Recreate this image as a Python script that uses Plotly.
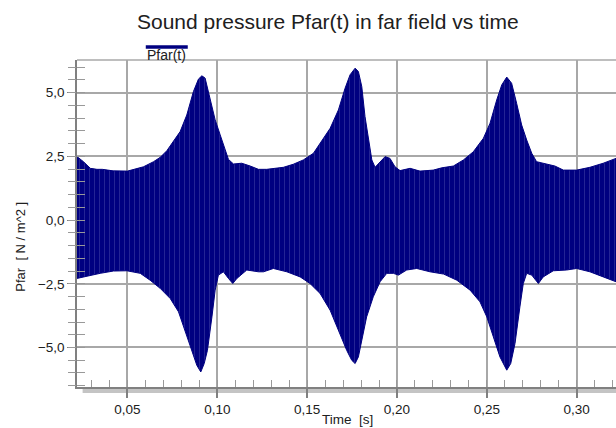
import plotly.graph_objects as go

# Upper envelope of Pfar(t) (peaks of each cycle)
upper_t = [0.0219, 0.0255, 0.0293, 0.0330, 0.0360, 0.0420, 0.0500, 0.0533, 0.0589, 0.0645,
           0.0682, 0.0719, 0.0756, 0.0793, 0.0830, 0.0867, 0.0895, 0.0914, 0.0932, 0.0960,
           0.0988, 0.1016, 0.1043, 0.1062, 0.1090, 0.1136, 0.1183, 0.1229, 0.1275, 0.1368,
           0.1423, 0.1479, 0.1535, 0.1581, 0.1628, 0.1674, 0.1711, 0.1739, 0.1767, 0.1785,
           0.1804, 0.1822, 0.1841, 0.1860, 0.1878, 0.1906, 0.1934, 0.1961, 0.1989, 0.2017,
           0.2073, 0.2128, 0.2202, 0.2250, 0.2314, 0.2370, 0.2425, 0.2481, 0.2518, 0.2555,
           0.2583, 0.2611, 0.2638, 0.2666, 0.2694, 0.2722, 0.2750, 0.2777, 0.2833, 0.2879,
           0.2926, 0.3000, 0.3074, 0.3148, 0.3219]
upper_p = [2.49, 2.29, 2.03, 1.99, 1.99, 1.93, 1.92, 1.99, 2.09, 2.29,
           2.46, 2.72, 3.08, 3.47, 4.12, 5.04, 5.53, 5.66, 5.57, 4.71,
           3.93, 3.34, 2.75, 2.38, 2.20, 2.23, 2.12, 1.99, 1.99, 2.07,
           2.19, 2.36, 2.62, 3.08, 3.60, 4.32, 5.17, 5.70, 5.96, 5.83,
           5.24, 4.06, 3.14, 2.36, 2.07, 2.29, 2.49, 2.42, 2.09, 1.94,
           2.03, 1.92, 1.96, 2.05, 2.12, 2.36, 2.68, 3.21, 3.80, 4.71,
           5.30, 5.61, 5.37, 4.58, 3.73, 3.14, 2.62, 2.29, 2.20, 2.12,
           1.96, 1.96, 2.07, 2.23, 2.42]

# Lower envelope (troughs of each cycle)
lower_t = [0.0219, 0.0274, 0.0348, 0.0422, 0.0497, 0.0571, 0.0626, 0.0682, 0.0738, 0.0784,
           0.0821, 0.0858, 0.0886, 0.0908, 0.0927, 0.0945, 0.0970, 0.0988, 0.1006, 0.1034,
           0.1062, 0.1086, 0.1109, 0.1164, 0.1229, 0.1257, 0.1312, 0.1387, 0.1461, 0.1516,
           0.1572, 0.1628, 0.1674, 0.1720, 0.1748, 0.1767, 0.1785, 0.1804, 0.1831, 0.1868,
           0.1906, 0.1943, 0.1980, 0.2008, 0.2054, 0.2110, 0.2184, 0.2260, 0.2333, 0.2407,
           0.2462, 0.2500, 0.2536, 0.2573, 0.2611, 0.2633, 0.2657, 0.2684, 0.2703, 0.2722,
           0.2750, 0.2787, 0.2814, 0.2870, 0.2944, 0.3000, 0.3074, 0.3148, 0.3219]
lower_p = [-2.29, -2.20, -2.09, -2.00, -1.99, -2.09, -2.36, -2.68, -3.08, -3.60,
           -4.32, -5.11, -5.70, -5.96, -5.63, -5.11, -3.80, -2.75, -2.16, -2.03,
           -2.29, -2.49, -2.29, -1.96, -2.03, -2.03, -1.90, -2.03, -2.23, -2.49,
           -2.88, -3.54, -4.32, -5.11, -5.50, -5.63, -5.37, -4.71, -3.80, -3.01,
           -2.42, -2.09, -2.09, -2.16, -1.96, -1.90, -2.03, -2.12, -2.36, -2.75,
           -3.21, -3.80, -4.58, -5.37, -5.89, -5.63, -4.84, -3.41, -2.49, -2.09,
           -2.16, -2.49, -2.23, -1.99, -1.96, -1.90, -2.03, -2.23, -2.42]

x_range = [0.0219, 0.3219]
y_range = [-6.55, 6.28]

NAVY = "#000080"
GRID = "#a8a8a8"
AX = "#808080"
FONT = "Liberation Sans, Arial, sans-serif"

fig = go.Figure()

# closed band: upper envelope forward, lower envelope backward
band_x = upper_t + lower_t[::-1]
band_y = upper_p + lower_p[::-1]
fig.add_trace(go.Scatter(
    x=band_x, y=band_y, mode="lines", fill="toself",
    line=dict(color=NAVY, width=1),
    fillcolor=NAVY,
    fillpattern=dict(shape="|", bgcolor=NAVY, fgcolor="#4848a8", size=5, solidity=0.2),
    name="Pfar(t)", showlegend=False, hoverinfo="skip"))

# dummy trace to activate second y axis (outside ticks)
fig.add_trace(go.Scatter(x=[None], y=[None], yaxis="y2", showlegend=False, hoverinfo="skip"))

fig.update_layout(
    width=616, height=428,
    margin=dict(l=77, r=0, t=60, b=41),
    paper_bgcolor="white", plot_bgcolor="white",
    separators=",.",
    font=dict(family=FONT, size=13, color="#202020"),
    showlegend=False,
    xaxis=dict(range=x_range, dtick=0.05, tick0=0, tickformat=".2f",
               showgrid=True, gridcolor=GRID, gridwidth=1.5,
               showline=True, linecolor=AX, linewidth=1.5,
               ticks="outside", ticklen=9, tickcolor=AX, tickwidth=1.5,
               minor=dict(dtick=0.01, tick0=0, ticks="inside", ticklen=7,
                          tickcolor="#999999", tickwidth=1.2, showgrid=False),
               zeroline=False, tickfont=dict(size=13.5, color="#202020")),
    yaxis=dict(range=y_range, dtick=2.5, tick0=0, tickformat=".1f",
               showgrid=True, gridcolor=GRID, gridwidth=1.5,
               showline=True, linecolor=AX, linewidth=1.5,
               ticks="outside", ticklen=8, tickcolor=AX, tickwidth=1.2,
               minor=dict(dtick=0.5, tick0=0, ticks="inside", ticklen=8,
                          tickcolor="#999999", tickwidth=1.2, showgrid=False),
               zeroline=False, tickfont=dict(size=13.5, color="#202020")),
    yaxis2=dict(range=y_range, overlaying="y", side="left", anchor="x",
                dtick=0.5, tick0=0, showticklabels=False, showgrid=False,
                ticks="outside", ticklen=8, tickcolor="#999999", tickwidth=1.2,
                zeroline=False, showline=False),
)

# top border
fig.add_shape(type="line", xref="paper", yref="paper", x0=0, x1=1, y0=1, y1=1,
              line=dict(color=GRID, width=1.5))
# grey bar under the time axis
fig.add_shape(type="rect", xref="paper", yref="paper", x0=0.0104, x1=1.0,
              y0=-0.0184, y1=-0.002, line=dict(width=0), fillcolor="#c4c4c4", layer="below")
# legend sample
fig.add_shape(type="line", xref="paper", yref="paper", x0=0.1276, x1=0.2055,
              y0=1.0398, y1=1.0398, line=dict(color=NAVY, width=3.5))
fig.add_annotation(text="Pfar(t)", xref="paper", yref="paper", x=0.1656, y=1.0153,
                   showarrow=False, xanchor="center", yanchor="middle",
                   font=dict(size=14, color="#202020"))
# title
fig.add_annotation(text="Sound pressure Pfar(t) in far field vs time",
                   xref="paper", yref="paper", x=(328 - 77) / 539.0, y=(386.7 - 22) / 326.7,
                   showarrow=False, xanchor="center", yanchor="middle",
                   font=dict(size=21, color="#202020"))
# axis titles
fig.add_annotation(text="Time\u00a0\u00a0[s]", xref="paper", yref="paper",
                   x=(347 - 77) / 539.0, y=(386.7 - 419.5) / 326.7,
                   showarrow=False, xanchor="center", yanchor="middle",
                   font=dict(size=13.5, color="#202020"))
fig.add_annotation(text="Pfar\u00a0\u00a0[ N / m^2 ]", xref="paper", yref="paper",
                   x=(21 - 77) / 539.0, y=(386.7 - 246.5) / 326.7, textangle=-90,
                   showarrow=False, xanchor="center", yanchor="middle",
                   font=dict(size=13, color="#202020"))

fig.write_html("out.html", config={"displayModeBar": False},
               post_script="document.body.style.margin='0px';document.body.style.overflow='hidden';")
